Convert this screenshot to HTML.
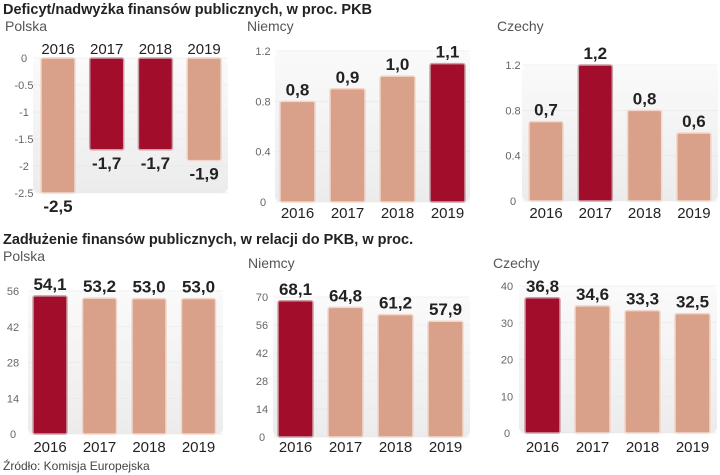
<!DOCTYPE html>
<html><head><meta charset="utf-8"><style>
body{margin:0;background:#fff;width:720px;height:475px;overflow:hidden;font-family:"Liberation Sans",sans-serif}
svg{display:block}
.t{font-weight:bold;font-size:14.5px;fill:#222;font-family:"Liberation Sans Narrow","Liberation Sans",sans-serif}
.c{font-size:14px;fill:#555}
.tick{font-size:11px;fill:#666}
.yr{font-size:15px;fill:#222}
.val{font-size:17px;font-weight:bold;fill:#222;font-family:"Liberation Sans Narrow","Liberation Sans",sans-serif}
</style></head><body>
<svg id="s" width="720" height="475" xmlns="http://www.w3.org/2000/svg">
<defs><linearGradient id="pg" x1="0" y1="0" x2="0" y2="1"><stop offset="0" stop-color="#fafafa"/><stop offset="1" stop-color="#ececec"/></linearGradient></defs>
<text class="t" x="3" y="14">Deficyt/nadwyżka finansów publicznych, w proc. PKB</text>
<text class="t" x="3" y="244">Zadłużenie finansów publicznych, w relacji do PKB, w proc.</text>
<text x="3" y="470" style="font-size:12px;fill:#444">Źródło: Komisja Europejska</text>
</svg>
<script>
const years = ["2016","2017","2018","2019"];
const defPL = [-2.5,-1.7,-1.7,-1.9];
const defDE = [0.8,0.9,1.0,1.1];
const defCZ = [0.7,1.2,0.8,0.6];
const debtPL = [54.1,53.2,53.0,53.0];
const debtDE = [68.1,64.8,61.2,57.9];
const debtCZ = [36.8,34.6,33.3,32.5];
const hlDefPL = [0,1,1,0], hlDefDE=[0,0,0,1], hlDefCZ=[0,1,0,0];
const hlDebtPL=[1,0,0,0], hlDebtDE=[1,0,0,0], hlDebtCZ=[1,0,0,0];
const ticksDefPL=[0,-0.5,-1,-1.5,-2,-2.5];
const ticksDefDE=[0,0.4,0.8,1.2];
const ticksDefCZ=[0,0.4,0.8,1.2];
const ticksPL=[0,14,28,42,56];
const ticksDE=[0,14,28,42,56,70];
const ticksCZ=[0,10,20,30,40];
const S=document.getElementById('s');
const NS='http://www.w3.org/2000/svg';
function mk(tag,at,txt){const e=document.createElementNS(NS,tag);for(const k in at)e.setAttribute(k,at[k]);if(txt!=null)e.textContent=txt;S.appendChild(e);return e;}
function fmt(v){return v.toFixed(1).replace('.',',');}
function chart(o){
  const y=v=>o.y0+(v-o.v0)*(o.y1-o.y0)/(o.v1-o.v0);
  const top=Math.min(y(o.v0),y(o.v1)), bot=Math.max(y(o.v0),y(o.v1));
  const p=mk('rect',{x:o.px,y:top,width:o.pw,height:bot-top,rx:6,fill:'url(#pg)'});
  
  
  const c=mk('text',{class:'c',x:o.cx,y:o.cy},o.country);
  
  
  o.ticks.forEach(t=>{
    const l=mk('line',{x1:o.px,x2:o.px+o.pw,y1:y(t),y2:y(t),stroke:'#e6e6e6','stroke-width':0.6});
    
    
    const tx=mk('text',{class:'tick',x:o.tx,y:y(t)+4,'text-anchor':'middle'},String(t));
    
    
  });
  o.vals.forEach((v,i)=>{
    const x=o.bx+i*o.step, ya=y(0), yb=y(v);
    const r=mk('rect',{x:x,y:Math.min(ya,yb),width:o.bw,height:Math.abs(yb-ya),rx:2,fill:o.hl[i]?'#a20d2b':'#d9a08a',stroke:o.hl[i]?'#c9a0a8':'#f1d7cb','stroke-width':1.5});
    
    
    const neg=v<0;
    const vt=mk('text',{class:'val',x:x+o.bw/2,y:neg?yb+19:yb-6,'text-anchor':'middle'},fmt(v));
    
    
    const yt=mk('text',{class:'yr',x:x+o.bw/2,y:o.yrY,'text-anchor':'middle'},years[i]);
    
    
  });
}
chart({name:'deficit-pl',country:'Polska',cx:5,cy:31,vals:defPL,hl:hlDefPL,ticks:ticksDefPL,v0:0,v1:-2.5,y0:58,y1:193,px:33,pw:195,tx:24,bx:41,step:48.7,bw:34,yrY:54});
chart({name:'deficit-de',country:'Niemcy',cx:247,cy:31,vals:defDE,hl:hlDefDE,ticks:ticksDefDE,v0:0,v1:1.2,y0:202,y1:51,px:275,pw:195,tx:263,bx:280,step:50,bw:35,yrY:218});
chart({name:'deficit-cz',country:'Czechy',cx:497,cy:31,vals:defCZ,hl:hlDefCZ,ticks:ticksDefCZ,v0:0,v1:1.2,y0:201,y1:65,px:522,pw:196,tx:513,bx:529,step:49.3,bw:34,yrY:218});
chart({name:'debt-pl',country:'Polska',cx:3,cy:261,vals:debtPL,hl:hlDebtPL,ticks:ticksPL,v0:0,v1:56,y0:434,y1:291,px:28,pw:195,tx:13,bx:33,step:49.5,bw:34,yrY:452});
chart({name:'debt-de',country:'Niemcy',cx:248,cy:268,vals:debtDE,hl:hlDebtDE,ticks:ticksDE,v0:0,v1:70,y0:437,y1:297,px:273,pw:197,tx:262,bx:278,step:50,bw:35,yrY:452});
chart({name:'debt-cz',country:'Czechy',cx:493,cy:268,vals:debtCZ,hl:hlDebtCZ,ticks:ticksCZ,v0:0,v1:40,y0:433,y1:286,px:519,pw:198,tx:507,bx:525,step:50,bw:35,yrY:452});
</script>
</body></html>
